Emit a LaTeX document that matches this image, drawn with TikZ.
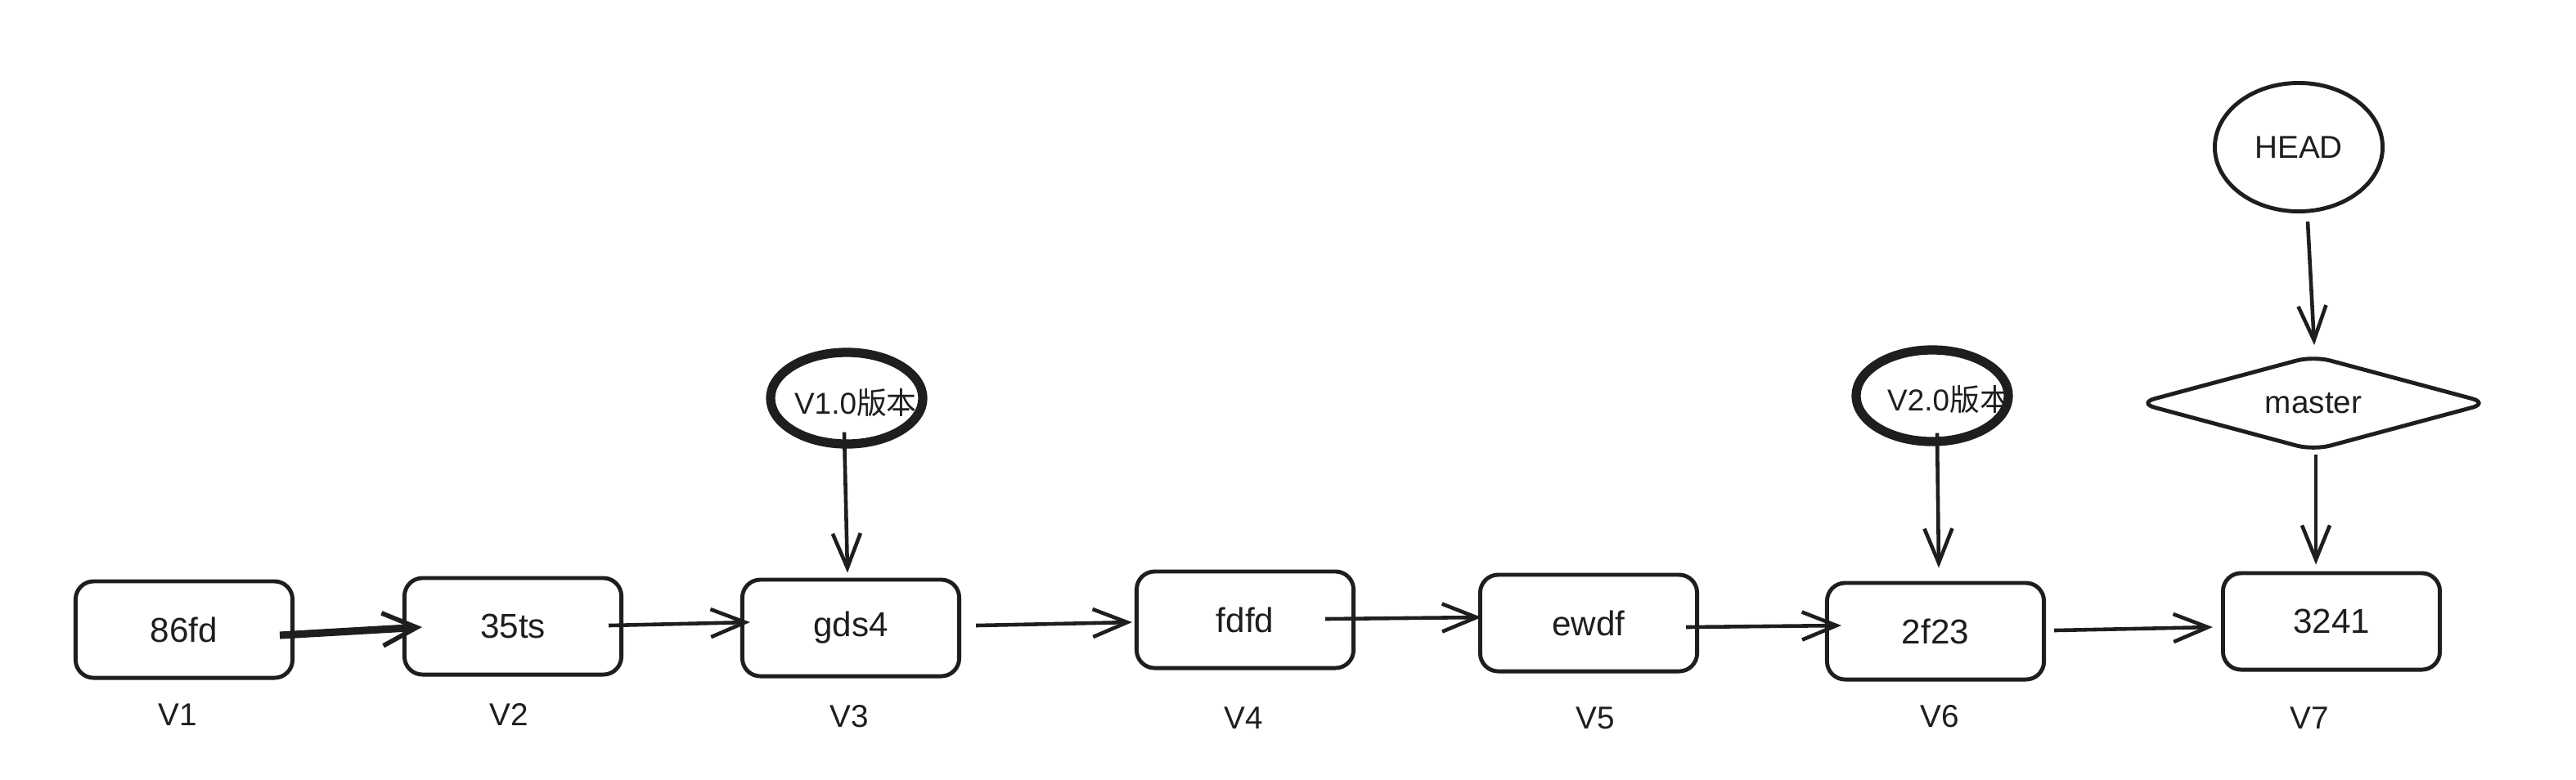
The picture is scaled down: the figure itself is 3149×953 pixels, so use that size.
\documentclass[tikz,border=0pt]{standalone}
\usepackage{fontspec}
\setmainfont{Liberation Sans}
\newfontfamily\cjk{Noto Sans CJK SC}
\usetikzlibrary{arrows.meta,shapes.geometric,calc}
\definecolor{ink}{HTML}{1E1E1E}
\tikzset{
  commit/.style={draw=ink,line width=1.4pt,rounded corners=0.22cm,minimum width=2.65cm,minimum height=1.18cm,inner sep=0pt,font=\fontsize{12}{14}\selectfont,text=ink},
  tagnode/.style={draw=ink,ellipse,line width=3.2pt,minimum width=1.86cm,minimum height=1.12cm,inner sep=0pt},
  tagtext/.style={font=\fontsize{10.5}{12}\selectfont,text=ink,inner sep=0pt},
  headnode/.style={draw=ink,ellipse,line width=1.4pt,minimum width=2.05cm,minimum height=1.57cm,inner sep=0pt,font=\fontsize{11}{13}\selectfont,text=ink},
  branch/.style={draw=ink,diamond,line width=1.4pt,rounded corners=6pt,minimum width=4.3cm,minimum height=1.17cm,inner sep=0pt,aspect=3.6,font=\fontsize{11}{13}\selectfont,text=ink},
  vlabel/.style={font=\fontsize{11}{13}\selectfont,text=ink},
  conn/.style={draw=ink,line width=1.3pt,-{Straight Barb[length=0.42cm,width=0.34cm,line width=1.3pt]}},
  thickconn/.style={draw=ink,line width=2.6pt,-{Straight Barb[length=0.42cm,width=0.4cm,line width=1.6pt]}}
}
\begin{document}
\begin{tikzpicture}[x=0.01cm,y=-0.01cm]
\fill[white] (0,0) rectangle (3149,953);
\useasboundingbox (0,0) rectangle (3149,953);
% commits
\node[commit] (c1) at (225,770) {86fd};
\node[commit] (c2) at (627,766) {35ts};
\node[commit] (c3) at (1040,768) {gds4};
\node[commit] (c4) at (1522,758) {fdfd};
\node[commit] (c5) at (1942,762) {ewdf};
\node[commit] (c6) at (2366,772) {2f23};
\node[commit] (c7) at (2850,760) {3241};
% version labels
\node[vlabel] (l1) at (217,874) {V1};
\node[vlabel] (l2) at (622,874) {V2};
\node[vlabel] (l3) at (1038,876) {V3};
\node[vlabel] (l4) at (1520,878) {V4};
\node[vlabel] (l5) at (1950,878) {V5};
\node[vlabel] (l6) at (2371,876) {V6};
\node[vlabel] (l7) at (2823,878) {V7};
% tags
\node[tagnode] (t1) at (1035,487) {};
\node[tagtext] (t1text) at (1046,492) {V1.0{\cjk 版本}};
\node[tagnode] (t2) at (2362,484) {};
\node[tagtext] (t2text) at (2382,488) {V2.0{\cjk 版本}};
\node[headnode] (head) at (2810,180) {HEAD};
\node[branch] (master) at (2828,493) {master};
% connectors (offsets in px from node anchors)
\draw[thickconn] ($(c1.east)+(-18,7)$) -- ($(c2.west)+(24,1)$);
\draw[conn] ($(c2.east)+(-18,-1)$) -- ($(c3.west)+(12,-7)$);
\draw[conn] ($(c3.east)+(18,-3)$) -- ($(c4.west)+(-3,3)$);
\draw[conn] ($(c4.east)+(-37,-1)$) -- ($(c5.west)+(4,-7)$);
\draw[conn] ($(c5.east)+(-16,5)$) -- ($(c6.west)+(20,-7)$);
\draw[conn] ($(c6.east)+(10,-1)$) -- ($(c7.west)+(-10,7)$);
\draw[conn] ($(t1.south)+(-3,-20)$) -- ($(c3.north)+(-4,-6)$);
\draw[conn] ($(t2.south)+(6,-16)$) -- ($(c6.north)+(4,-16)$);
\draw[conn] ($(head.south)+(11,10)$) -- ($(master.north)+(1,-10)$);
\draw[conn] ($(master.south)+(3,2)$) -- ($(c7.north)+(-19,-8)$);
\end{tikzpicture}
\end{document}
